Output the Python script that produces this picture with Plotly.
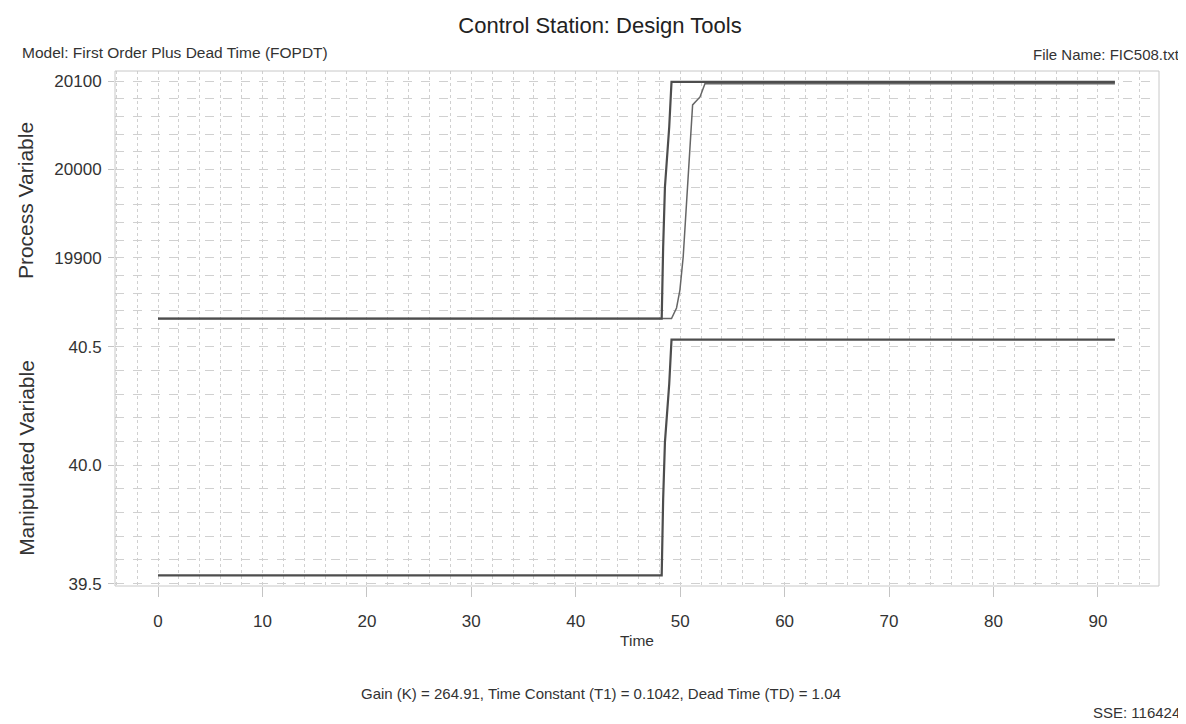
import plotly.graph_objects as go
from plotly.subplots import make_subplots

# values
time_pv = [0, 48.23, 48.37, 48.54, 48.95, 49.17, 91.63]
pv_measured = [19831, 19831, 19912, 19980, 20048, 20099, 20099]

time_model = [0, 49.17, 49.65, 49.97, 50.29, 50.61, 50.94, 51.19, 51.9, 52.37, 91.63]
pv_model = [19831, 19831, 19843, 19863, 19901, 19962, 20037, 20073, 20082, 20097, 20097]

time_mv = [0, 48.23, 48.37, 48.54, 48.95, 49.17, 91.63]
mv_values = [39.535, 39.535, 39.858, 40.097, 40.342, 40.529, 40.529]

x_ticks = [0, 10, 20, 30, 40, 50, 60, 70, 80, 90]
pv_ticks = [19900, 20000, 20100]
pv_tick_text = ['19900', '20000', '20100']
mv_ticks = [39.5, 40.0, 40.5]
mv_tick_text = ['39.5', '40.0', '40.5']

FONT = 'Liberation Sans, Arial, sans-serif'
TXT = '#333333'
GRID = '#d0d0d0'

# the page puts an 8px body margin round the figure, so work in figure coords
W, H = 1178, 716
L, T, PW, PH = 107, 63, 1044, 515

fig = make_subplots(rows=2, cols=1, shared_xaxes=True, vertical_spacing=0)

fig.add_trace(go.Scatter(x=time_model, y=pv_model, mode='lines',
                         line=dict(color='#666666', width=1.5), name='Model'), row=1, col=1)
fig.add_trace(go.Scatter(x=time_pv, y=pv_measured, mode='lines',
                         line=dict(color='#4d4d4d', width=2.2), name='Process Variable'), row=1, col=1)
fig.add_trace(go.Scatter(x=time_mv, y=mv_values, mode='lines',
                         line=dict(color='#4d4d4d', width=2.2), name='Manipulated Variable'), row=2, col=1)

split = (586 - 330) / 515

fig.update_xaxes(range=[-4.12, 95.85], showgrid=True, gridcolor=GRID, griddash='dot', gridwidth=1,
                 zeroline=False, showline=False,
                 minor=dict(dtick=2, tick0=0, showgrid=True, gridcolor=GRID, griddash='dot', gridwidth=1))
fig.update_xaxes(row=1, col=1, tickvals=x_ticks, showticklabels=False, ticks='')
fig.update_xaxes(row=2, col=1, tickvals=x_ticks, ticks='outside', ticklen=10, tickcolor='#c4c4c4',
                 ticklabelstandoff=10, tickfont=dict(family=FONT, size=17, color=TXT),
                 title=dict(text='Time', font=dict(family=FONT, size=15.5, color=TXT), standoff=4))

fig.update_yaxes(row=1, col=1, domain=[split, 1], range=[19818.1, 20111.4],
                 tickvals=pv_ticks, ticktext=pv_tick_text, ticks='outside', ticklen=6, tickcolor='#c4c4c4',
                 tickfont=dict(family=FONT, size=17, color=TXT), ticklabelstandoff=3,
                 showgrid=True, gridcolor=GRID, griddash='dash', zeroline=False,
                 minor=dict(dtick=20, tick0=19900, showgrid=True, gridcolor=GRID, griddash='dash'),
                 title=dict(text='Process Variable', font=dict(family=FONT, size=21, color=TXT), standoff=14))
fig.update_yaxes(row=2, col=1, domain=[0, split], range=[39.49, 40.57],
                 tickvals=mv_ticks, ticktext=mv_tick_text, ticks='outside', ticklen=6, tickcolor='#c4c4c4',
                 tickfont=dict(family=FONT, size=17, color=TXT), ticklabelstandoff=3,
                 showgrid=True, gridcolor=GRID, griddash='dash', zeroline=False,
                 minor=dict(dtick=0.1, tick0=39.5, showgrid=True, gridcolor=GRID, griddash='dash'),
                 title=dict(text='Manipulated Variable', font=dict(family=FONT, size=21, color=TXT), standoff=28))

fig.update_layout(
    width=W, height=H,
    margin=dict(l=L, r=W - L - PW, t=T, b=H - T - PH),
    paper_bgcolor='white', plot_bgcolor='white',
    showlegend=False,
    title=dict(text='Control Station: Design Tools', x=(600 - 8) / W, xanchor='center',
               y=1 - (25 - 8) / H, yanchor='middle', font=dict(family=FONT, size=22, color='#222222')),
    shapes=[dict(type='rect', xref='paper', yref='paper', x0=0, x1=1, y0=0, y1=1,
                 line=dict(color='#c8c8c8', width=1))],
)

# reference pixel positions of the loose texts (page coords)
notes = [
    ('Model: First Order Plus Dead Time (FOPDT)', 20, 52, 'left', 15.5),
    ('File Name: FIC508.txt', 1182, 54, 'right', 15),
    ('Gain (K) = 264.91, Time Constant (T1) = 0.1042, Dead Time (TD) = 1.04', 601, 693, 'center', 15),
    ('SSE: 116424', 1182, 712, 'right', 15),
]
for text, px, py, anchor, size in notes:
    fig.add_annotation(text=text, x=(px - 115) / PW, y=(586 - py) / PH, xref='paper', yref='paper',
                       xanchor=anchor, yanchor='middle', showarrow=False,
                       font=dict(family=FONT, size=size, color=TXT))

fig.write_html("out.html")
